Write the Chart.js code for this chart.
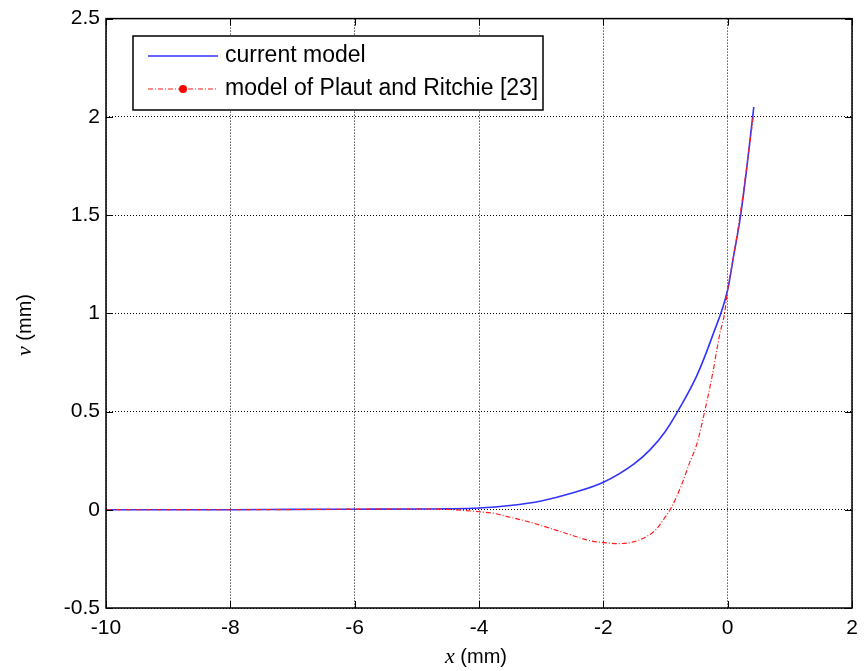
<!DOCTYPE html>
<html>
<head>
<meta charset="utf-8">
<script src="https://cdn.jsdelivr.net/npm/chart.js@4.4.1/dist/chart.umd.min.js"></script>
<style>
  html, body { margin: 0; padding: 0; background: #fff; }
  #wrap { width: 867px; height: 671px; }
</style>
</head>
<body>
<div id="wrap"><canvas id="chart" width="867" height="671"></canvas></div>
<script>
// axis ticks
const xTicks = [-10, -8, -6, -4, -2, 0, 2];
const yTicks = [-0.5, 0, 0.5, 1, 1.5, 2, 2.5];
const xTickLabels = ["-10", "-8", "-6", "-4", "-2", "0", "2"];
const yTickLabels = ["-0.5", "0", "0.5", "1", "1.5", "2", "2.5"];

// current model (blue)
const xCurrent = [-10, -8, -7, -6, -5, -4.5, -4, -3.5, -3, -2.5, -2, -1.5, -1.25, -1, -0.75, -0.5, -0.25, 0, 0.1, 0.2, 0.3, 0.42];
const vCurrent = [0, 0, 0.002, 0.003, 0.004, 0.005, 0.009, 0.022, 0.045, 0.085, 0.14, 0.235, 0.305, 0.4, 0.53, 0.68, 0.88, 1.12, 1.3, 1.48, 1.72, 2.05];

// model of Plaut and Ritchie [23] (red)
const xPlaut = [-10, -8, -6, -5, -4.5, -4, -3.75, -3.5, -3.25, -3, -2.75, -2.5, -2.25, -2, -1.75, -1.5, -1.3, -1.15, -1, -0.9, -0.75, -0.6, -0.5, -0.37, -0.25, -0.13, -0.05, 0, 0.1, 0.2, 0.3, 0.42];
const vPlaut = [0, 0, 0.003, 0.004, 0.002, -0.01, -0.019, -0.038, -0.057, -0.08, -0.105, -0.13, -0.155, -0.167, -0.172, -0.162, -0.135, -0.1, -0.035, 0.015, 0.12, 0.25, 0.33, 0.5, 0.68, 0.89, 1.0, 1.12, 1.3, 1.5, 1.73, 2.02];

const seriesNames = ["current model", "model of Plaut and Ritchie [23]"];

function toPoints(xs, ys) {
    return xs.map((x, i) => ({ x: x, y: ys[i] }));
}

// Box, inward ticks, axis titles and legend, MATLAB style
const matlabFrame = {
    id: "matlabFrame",
    afterDraw(chart) {
        const ctx = chart.ctx;
        const a = chart.chartArea;
        const xs = chart.scales.x, ys = chart.scales.y;
        ctx.save();

        // inward tick marks
        ctx.strokeStyle = "#000";
        ctx.lineWidth = 1;
        ctx.setLineDash([]);
        ctx.beginPath();
        xTicks.forEach(t => {
            const px = Math.round(xs.getPixelForValue(t)) + 0.5;
            ctx.moveTo(px, a.bottom); ctx.lineTo(px, a.bottom - 7);
            ctx.moveTo(px, a.top); ctx.lineTo(px, a.top + 7);
        });
        yTicks.forEach(t => {
            const py = Math.round(ys.getPixelForValue(t)) + 0.5;
            ctx.moveTo(a.left, py); ctx.lineTo(a.left + 7, py);
            ctx.moveTo(a.right, py); ctx.lineTo(a.right - 7, py);
        });
        ctx.stroke();

        // box
        ctx.lineWidth = 1.5;
        ctx.strokeRect(a.left, a.top, a.right - a.left, a.bottom - a.top);

        // axis titles
        ctx.fillStyle = "#000";
        ctx.textBaseline = "middle";
        function mixedTitle(sym, rest, cx, cy) {
            ctx.font = "italic 22px 'Liberation Serif'";
            const w1 = ctx.measureText(sym).width;
            ctx.font = "20px 'Liberation Sans'";
            const w2 = ctx.measureText(rest).width;
            let x0 = cx - (w1 + w2) / 2;
            ctx.textAlign = "left";
            ctx.font = "italic 22px 'Liberation Serif'";
            ctx.fillText(sym, x0, cy);
            ctx.font = "20px 'Liberation Sans'";
            ctx.fillText(rest, x0 + w1, cy);
        }
        mixedTitle("x", " (mm)", 476, 657);
        ctx.save();
        ctx.translate(25, 325);
        ctx.rotate(-Math.PI / 2);
        mixedTitle("v", " (mm)", 0, 0);
        ctx.restore();

        // legend
        const lx = 133, ly = 36, lw = 410, lh = 74;
        ctx.fillStyle = "#fff";
        ctx.fillRect(lx, ly, lw, lh);
        ctx.lineWidth = 1.5;
        ctx.strokeStyle = "#000";
        ctx.strokeRect(lx, ly, lw, lh);

        ctx.lineWidth = 1.5;
        ctx.strokeStyle = "#3333ff";
        ctx.beginPath();
        ctx.moveTo(148, 56); ctx.lineTo(218, 56);
        ctx.stroke();

        ctx.lineWidth = 1;
        ctx.strokeStyle = "#ff2020";
        ctx.setLineDash([5, 2, 1, 2]);
        ctx.beginPath();
        ctx.moveTo(148, 89); ctx.lineTo(218, 89);
        ctx.stroke();
        ctx.setLineDash([]);
        ctx.fillStyle = "#ff0000";
        ctx.beginPath();
        ctx.arc(183, 89, 4, 0, Math.PI * 2);
        ctx.fill();

        ctx.fillStyle = "#000";
        ctx.font = "23px 'Liberation Sans'";
        ctx.textAlign = "left";
        ctx.fillText(seriesNames[0], 225, 56);
        ctx.fillText(seriesNames[1], 225, 89);
        ctx.restore();
    }
};

const ctx = document.getElementById("chart").getContext("2d");
new Chart(ctx, {
    type: "line",
    data: {
        datasets: [
            {
                label: seriesNames[1],
                data: toPoints(xPlaut, vPlaut),
                borderColor: "#ff2020",
                borderWidth: 1.2,
                borderDash: [5, 2, 1, 2],
                pointRadius: 0,
                cubicInterpolationMode: "monotone",
                fill: false
            },
            {
                label: seriesNames[0],
                data: toPoints(xCurrent, vCurrent),
                borderColor: "#3333ff",
                borderWidth: 1.6,
                pointRadius: 0,
                cubicInterpolationMode: "monotone",
                fill: false
            }
        ]
    },
    options: {
        responsive: false,
        animation: false,
        layout: { padding: { left: 0, right: 15, top: 17, bottom: 0 } },
        plugins: {
            legend: { display: false },
            tooltip: { enabled: false }
        },
        scales: {
            x: {
                type: "linear",
                min: -10,
                max: 2,
                afterBuildTicks: s => { s.ticks = xTicks.map(v => ({ value: v })); },
                afterFit: s => { s.height = 63; },
                ticks: {
                    color: "#000",
                    font: { family: "'Liberation Sans'", size: 21 },
                    padding: 8,
                    maxRotation: 0,
                    callback: v => xTickLabels[xTicks.indexOf(v)]
                },
                grid: { color: "#000", lineWidth: 1, drawTicks: false },
                border: { display: false, dash: [1, 2] }
            },
            y: {
                type: "linear",
                min: -0.5,
                max: 2.5,
                afterBuildTicks: s => { s.ticks = yTicks.map(v => ({ value: v })); },
                afterFit: s => { s.width = 106; },
                ticks: {
                    color: "#000",
                    font: { family: "'Liberation Sans'", size: 21 },
                    padding: 6,
                    callback: v => yTickLabels[yTicks.indexOf(v)]
                },
                grid: { color: "#000", lineWidth: 1, drawTicks: false },
                border: { display: false, dash: [1, 2] }
            }
        }
    },
    plugins: [matlabFrame]
});
</script>
</body>
</html>
